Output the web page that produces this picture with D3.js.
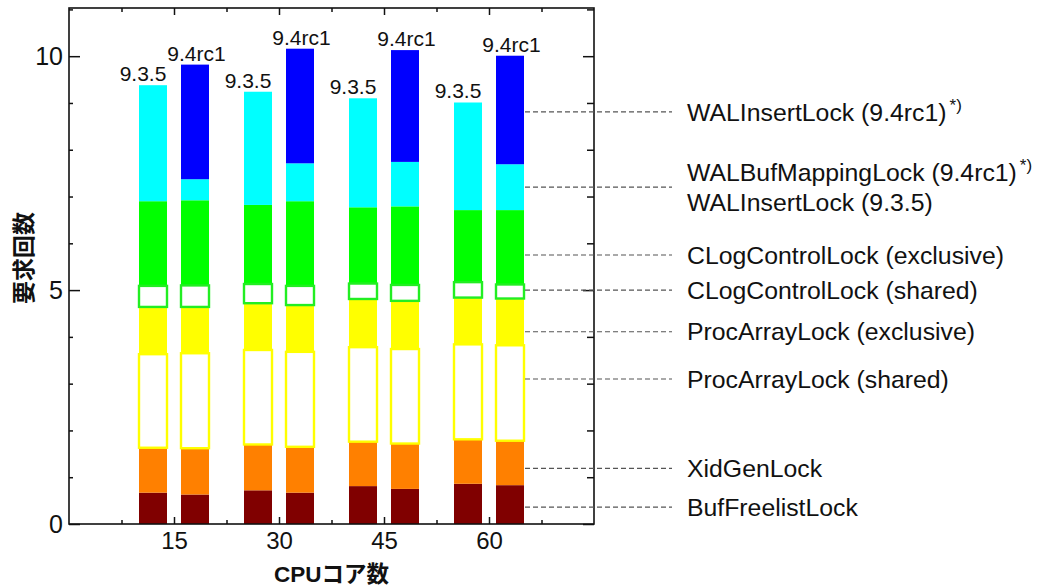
<!DOCTYPE html>
<html><head><meta charset="utf-8">
<script src="https://cdn.jsdelivr.net/npm/d3@7"></script>
<style>body{margin:0;background:#fff}svg{display:block}</style>
</head><body><svg id="c" width="1042" height="586"></svg>
<script>
// ---------- data ----------
const cores = [15, 30, 45, 60];
const versions = ["9.3.5", "9.4rc1"];
// bar order: 15/9.3.5, 15/9.4rc1, 30/9.3.5, 30/9.4rc1, 45/9.3.5, 45/9.4rc1, 60/9.3.5, 60/9.4rc1
const bufFreelist     = [0.67, 0.63, 0.72, 0.67, 0.81, 0.75, 0.86, 0.83];
const xidGen          = [0.96, 0.99, 0.98, 0.98, 0.95, 0.97, 0.95, 0.95];
const procArrayShared = [2.00, 2.03, 2.02, 2.03, 2.02, 2.02, 2.03, 2.04];
const procArrayExcl   = [1.01, 0.99, 1.00, 1.00, 1.03, 1.03, 1.00, 1.00];
const clogShared      = [0.45, 0.46, 0.41, 0.41, 0.33, 0.34, 0.33, 0.30];
const clogExcl        = [1.81, 1.82, 1.69, 1.81, 1.63, 1.68, 1.54, 1.59];
const walMid          = [2.48, 0.45, 2.42, 0.81, 2.33, 0.95, 2.30, 0.98];
const walInsert94     = [0.00, 2.45, 0.00, 2.45, 0.00, 2.39, 0.00, 2.32];

const yTicks = [0, 5, 10];
const xTicks = [15, 30, 45, 60];
const yTitle = "要求回数";
const xTitle = "CPUコア数";

// annotation labels and the value each leader line points at
const annotationText = [
  ["WALInsertLock (9.4rc1)"],
  ["WALBufMappingLock (9.4rc1)", "WALInsertLock (9.3.5)"],
  ["CLogControlLock (exclusive)"],
  ["CLogControlLock (shared)"],
  ["ProcArrayLock (exclusive)"],
  ["ProcArrayLock (shared)"],
  ["XidGenLock"],
  ["BufFreelistLock"]
];
const annotationStar = [[true], [true, false], [false], [false], [false], [false], [false], [false]];
const annotationAt = [8.81, 7.20, 5.75, 5.00, 4.11, 3.10, 1.19, 0.36];

// ---------- styles ----------
const keys = ["buf", "xid", "pas", "pae", "cls", "cle", "wal", "wal94"];
const seriesArrays = [bufFreelist, xidGen, procArrayShared, procArrayExcl, clogShared, clogExcl, walMid, walInsert94];
const fills = {buf: "#800000", xid: "#FF8000", pas: "#FFFFFF", pae: "#FFFF00", cls: "#FFFFFF", cle: "#00FF00", wal: "#00FFFF", wal94: "#0000FF"};
const strokes = {pas: "#FFFF00", cls: "#22EE22"};

const svg = d3.select("#c");
const mL = 69, mR = 594, mT = 8, mB = 524;
const x = d3.scaleLinear().domain([0, 75]).range([mL, mR]);
const y = d3.scaleLinear().domain([0, 11.03]).range([mB, mT]);
const barOffset = 3, barWidth = 4;
const TXT = "#111";
const FONT = "'Liberation Sans', Arial, sans-serif";

// rows
const rows = [];
cores.forEach((c, ci) => versions.forEach((v, vi) => {
  const i = ci * 2 + vi;
  const r = {core: c, version: v};
  keys.forEach((k, ki) => r[k] = seriesArrays[ki][i]);
  rows.push(r);
}));
const stacked = d3.stack().keys(keys)(rows);
const barX = d => x(d.data.core + (d.data.version === versions[0] ? -barOffset : barOffset) - barWidth / 2);
const bw = x(barWidth) - x(0);

const g = svg.append("g");
stacked.filter(s => !strokes[s.key]).forEach(s => {
  g.append("g").selectAll("rect").data(s.filter(d => d[1] - d[0] > 0)).join("rect")
    .attr("x", barX).attr("width", bw)
    .attr("y", d => y(d[1])).attr("height", d => y(d[0]) - y(d[1]))
    .attr("fill", fills[s.key]);
});
stacked.filter(s => strokes[s.key]).forEach(s => {
  g.append("g").selectAll("rect").data(s).join("rect")
    .attr("x", barX).attr("width", bw)
    .attr("y", d => y(d[1])).attr("height", d => y(d[0]) - y(d[1]))
    .attr("fill", "#fff").attr("stroke", strokes[s.key]).attr("stroke-width", 2.4);
});

// version labels on top of bars
const totals = rows.map(r => ({r, total: d3.sum(keys, k => r[k])}));
svg.append("g").selectAll("text").data(totals).join("text")
  .attr("x", d => x(d.r.core + (d.r.version === versions[0] ? -barOffset : barOffset)) + (d.r.version === versions[0] ? -10 : 1.5))
  .attr("y", d => y(d.total) - 4)
  .attr("text-anchor", "middle")
  .attr("font-family", FONT).attr("font-size", 21).attr("fill", TXT)
  .text(d => d.r.version);

// ---------- axes (ticks pointing inward on all sides) ----------
const minorY = d3.range(1, 11.01, 1).filter(v => !yTicks.includes(v));
const minorX = [7.5, 22.5, 37.5, 52.5, 67.5];
const axStyle = sel => { sel.select(".domain").remove(); sel.selectAll("line").attr("stroke", "#111").attr("stroke-width", 1.5); };

svg.append("g").attr("transform", `translate(${mL},0)`)
  .call(d3.axisLeft(y).tickValues(yTicks).tickSize(-11).tickPadding(6).tickFormat(d3.format("d")))
  .call(axStyle)
  .call(s => s.selectAll("text").attr("font-family", FONT).attr("font-size", 25).attr("fill", TXT));
svg.append("g").attr("transform", `translate(${mL},0)`)
  .call(d3.axisLeft(y).tickValues(minorY).tickSize(-4).tickFormat(""))
  .call(axStyle);
svg.append("g").attr("transform", `translate(${mR},0)`)
  .call(d3.axisRight(y).tickValues(yTicks).tickSize(-11).tickFormat(""))
  .call(axStyle);
svg.append("g").attr("transform", `translate(${mR},0)`)
  .call(d3.axisRight(y).tickValues(minorY).tickSize(-7).tickFormat(""))
  .call(axStyle);
svg.append("g").attr("transform", `translate(0,${mB})`)
  .call(d3.axisBottom(x).tickValues(xTicks).tickSize(-7).tickPadding(8).tickFormat(d3.format("d")))
  .call(axStyle)
  .call(s => s.selectAll("text").attr("font-family", FONT).attr("font-size", 24).attr("fill", TXT));
svg.append("g").attr("transform", `translate(0,${mB})`)
  .call(d3.axisBottom(x).tickValues(minorX).tickSize(-4).tickFormat(""))
  .call(axStyle);
svg.append("g").attr("transform", `translate(0,${mT})`)
  .call(d3.axisTop(x).tickValues(xTicks).tickSize(-7).tickFormat(""))
  .call(axStyle);
svg.append("g").attr("transform", `translate(0,${mT})`)
  .call(d3.axisTop(x).tickValues(minorX).tickSize(-4).tickFormat(""))
  .call(axStyle);

// frame
svg.append("rect").attr("x", mL).attr("y", mT).attr("width", mR - mL).attr("height", mB - mT)
  .attr("fill", "none").attr("stroke", "#111").attr("stroke-width", 1.6);

// axis titles
svg.append("text").attr("transform", `translate(22,258) rotate(-90)`)
  .attr("text-anchor", "middle").attr("dominant-baseline", "central")
  .attr("font-family", "'Noto Sans CJK JP', sans-serif").attr("font-weight", "bold")
  .attr("font-size", 23).attr("fill", TXT).text(yTitle);
svg.append("text").attr("x", (mL + mR) / 2).attr("y", 574)
  .attr("text-anchor", "middle").attr("dominant-baseline", "central")
  .attr("font-family", FONT + ", 'Noto Sans CJK JP'").attr("font-weight", "bold")
  .attr("font-size", 22.5).attr("fill", TXT).text(xTitle);

// ---------- annotations ----------
const ann = svg.append("g");
annotationText.forEach((lines, i) => {
  const yy = y(annotationAt[i]);
  ann.append("line").attr("x1", 525).attr("x2", 672).attr("y1", yy).attr("y2", yy)
    .attr("stroke", "#555").attr("stroke-width", 1.2).attr("stroke-dasharray", "5,3");
  const lh = 30;
  lines.forEach((t, li) => {
    const ly = yy + (li - (lines.length - 1) / 2) * lh;
    const tx = ann.append("text").attr("x", 687).attr("y", ly).attr("dy", "0.35em")
      .attr("font-family", FONT).attr("font-size", 24.8).attr("fill", TXT);
    tx.append("tspan").text(t);
    if (annotationStar[i][li]) {
      tx.append("tspan").attr("dx", 3).attr("dy", -10).attr("font-size", 17).text("*)");
    }
  });
});
</script></body></html>
